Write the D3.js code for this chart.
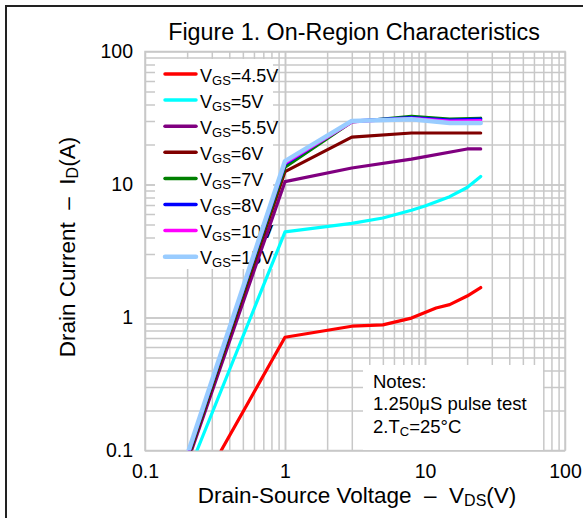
<!DOCTYPE html>
<html><head><meta charset="utf-8">
<script src="https://cdn.jsdelivr.net/npm/d3@7"></script>
<style>body{margin:0;background:#fff}svg{display:block;font-family:"Liberation Sans",Arial,sans-serif}text{white-space:pre}</style>
</head><body>
<svg id="c" width="583" height="518"></svg>
<script>
const seriesNames = ["4.5V","5V","5.5V","6V","7V","8V","10V","15V"];
const seriesColors = ["#ff0000","#00ffff","#800080","#800000","#008000","#0000ff","#ff00ff","#99ccff"];
const vgs45 = [[0.35,0.1],[1,0.71],[3,0.86],[5,0.88],[8,0.99],[12,1.18],[15,1.25],[20,1.45],[25,1.68]];
const vgs5  = [[0.235,0.1],[1,4.4],[3,5.1],[5,5.6],[8,6.4],[10,6.9],[15,8.1],[20,9.5],[25,11.5]];
const vgs55 = [[0.215,0.1],[1,10.5],[3,13.3],[8,15.5],[20,18.5],[25,18.5]];
const vgs6  = [[0.212,0.1],[1,12.5],[3,22.7],[8,24.4],[25,24.4]];
const vgs7  = [[0.21,0.1],[1,13.5],[3,29.5],[8,32.5],[15,31],[25,31.5]];
const vgs8  = [[0.208,0.1],[1,14.2],[3,30],[8,31.8],[15,30.5],[25,31]];
const vgs10 = [[0.207,0.1],[1,14.5],[3,29.5],[8,31.5],[15,30],[25,30.2]];
const vgs15 = [[0.205,0.1],[1,15],[3,30],[8,31],[15,29],[25,29]];
const xTicks = [0.1,1,10,100];
const yTicks = [0.1,1,10,100];
const notes = ["Notes:","1.250μS pulse test","2.T","C","=25°C"];

const allSeries = [vgs45,vgs5,vgs55,vgs6,vgs7,vgs8,vgs10,vgs15];
const svg = d3.select("#c");
const L=145,R=565,T=51.5,B=450.5;
const x = d3.scaleLog().domain([0.1,100]).range([L,R]);
const y = d3.scaleLog().domain([0.1,100]).range([B,T]);

// outer frame
svg.append("path").attr("d","M6,600V6H600").attr("fill","none").attr("stroke","#222").attr("stroke-width",2);

// grid
const minor=[];
for(let e=-1;e<2;e++) for(let m=1;m<=10;m++) minor.push(m*Math.pow(10,e));
const g = svg.append("g");
const gx = d3.axisBottom(x).tickValues(minor).tickSize(-(B-T)).tickFormat("");
const gy = d3.axisLeft(y).tickValues(minor).tickSize(-(R-L)).tickFormat("");
g.append("g").attr("transform",`translate(0,${B})`).call(gx);
g.append("g").attr("transform",`translate(${L},0)`).call(gy);
g.selectAll(".domain").remove();
g.selectAll("line").attr("stroke","#c8c8c8").attr("stroke-width",1.5);
svg.append("rect").attr("x",L).attr("y",T).attr("width",R-L).attr("height",B-T).attr("fill","none").attr("stroke","#c8c8c8").attr("stroke-width",1.5);

// tick labels
const ax = d3.axisBottom(x).tickValues(xTicks).tickSize(0).tickPadding(14).tickFormat(d=>d3.format("~g")(d));
const axg = svg.append("g").attr("transform",`translate(0,${B})`).call(ax);
axg.select(".domain").remove();
axg.selectAll("text").attr("font-size",19.5).attr("fill","#000").attr("font-family","Liberation Sans, Arial, sans-serif");
const ay = d3.axisLeft(y).tickValues(yTicks).tickSize(0).tickPadding(12).tickFormat(d=>d3.format("~g")(d));
const ayg = svg.append("g").attr("transform",`translate(${L},0)`).call(ay);
ayg.select(".domain").remove();
ayg.selectAll("text").attr("font-size",19.5).attr("fill","#000").attr("font-family","Liberation Sans, Arial, sans-serif");

// notes box
svg.append("rect").attr("x",363).attr("y",365).attr("width",180).attr("height",85).attr("fill","#fff");
const nt = svg.append("g").attr("font-size",18.5).attr("fill","#000");
nt.append("text").attr("x",373).attr("y",388).text(notes[0]);
nt.append("text").attr("x",373).attr("y",410).text(notes[1]);
const t3 = nt.append("text").attr("x",373).attr("y",433);
t3.append("tspan").text(notes[2]);
t3.append("tspan").attr("font-size",13).attr("dy",3).text(notes[3]);
t3.append("tspan").attr("dy",-3).text(notes[4]);

// legend (beneath the curves)
svg.append("rect").attr("x",155).attr("y",59).attr("width",118).attr("height",210).attr("fill","#fff");
seriesNames.forEach((n,i)=>{
  const yy = 74 + i*26.1;
  svg.append("line").attr("x1",165).attr("x2",196).attr("y1",yy).attr("y2",yy)
    .attr("stroke",seriesColors[i]).attr("stroke-width",i===7?4.5:3.5).attr("stroke-linecap","round");
  const t = svg.append("text").attr("x",200).attr("y",yy+7.5).attr("font-size",18).attr("fill","#000");
  t.append("tspan").text("V");
  t.append("tspan").attr("font-size",13).attr("dy",3).text("GS");
  t.append("tspan").attr("dy",-3).text("="+n);
});

// lines
const line = d3.line().x(d=>x(d[0])).y(d=>y(d[1]));
svg.append("defs").append("clipPath").attr("id","cp").append("rect").attr("x",L).attr("y",T).attr("width",R-L).attr("height",B-T);
const lg = svg.append("g").attr("clip-path","url(#cp)");
allSeries.forEach((s,i)=>{
  lg.append("path").datum(s).attr("d",line).attr("fill","none")
    .attr("stroke",seriesColors[i]).attr("stroke-width",i===7?4.5:3.2)
    .attr("stroke-linejoin","round").attr("stroke-linecap","round");
});

// title
svg.append("text").attr("x",354).attr("y",40).attr("text-anchor","middle").attr("font-size",23.3).attr("fill","#000").text("Figure 1. On-Region Characteristics");

// x label
const xl = svg.append("text").attr("x",357).attr("y",503).attr("text-anchor","middle").attr("font-size",22.5).attr("fill","#000");
xl.append("tspan").text("Drain-Source Voltage  \u2013  V");
xl.append("tspan").attr("font-size",16).attr("dy",3).text("DS");
xl.append("tspan").attr("dy",-3).text("(V)");

// y label
const yl = svg.append("text").attr("transform","translate(75,247) rotate(-90)").attr("text-anchor","middle").attr("font-size",22.5).attr("fill","#000");
yl.append("tspan").text("Drain Current  \u2013  I");
yl.append("tspan").attr("font-size",16).attr("dy",3).text("D");
yl.append("tspan").attr("dy",-3).text("(A)");
</script>
</body></html>
